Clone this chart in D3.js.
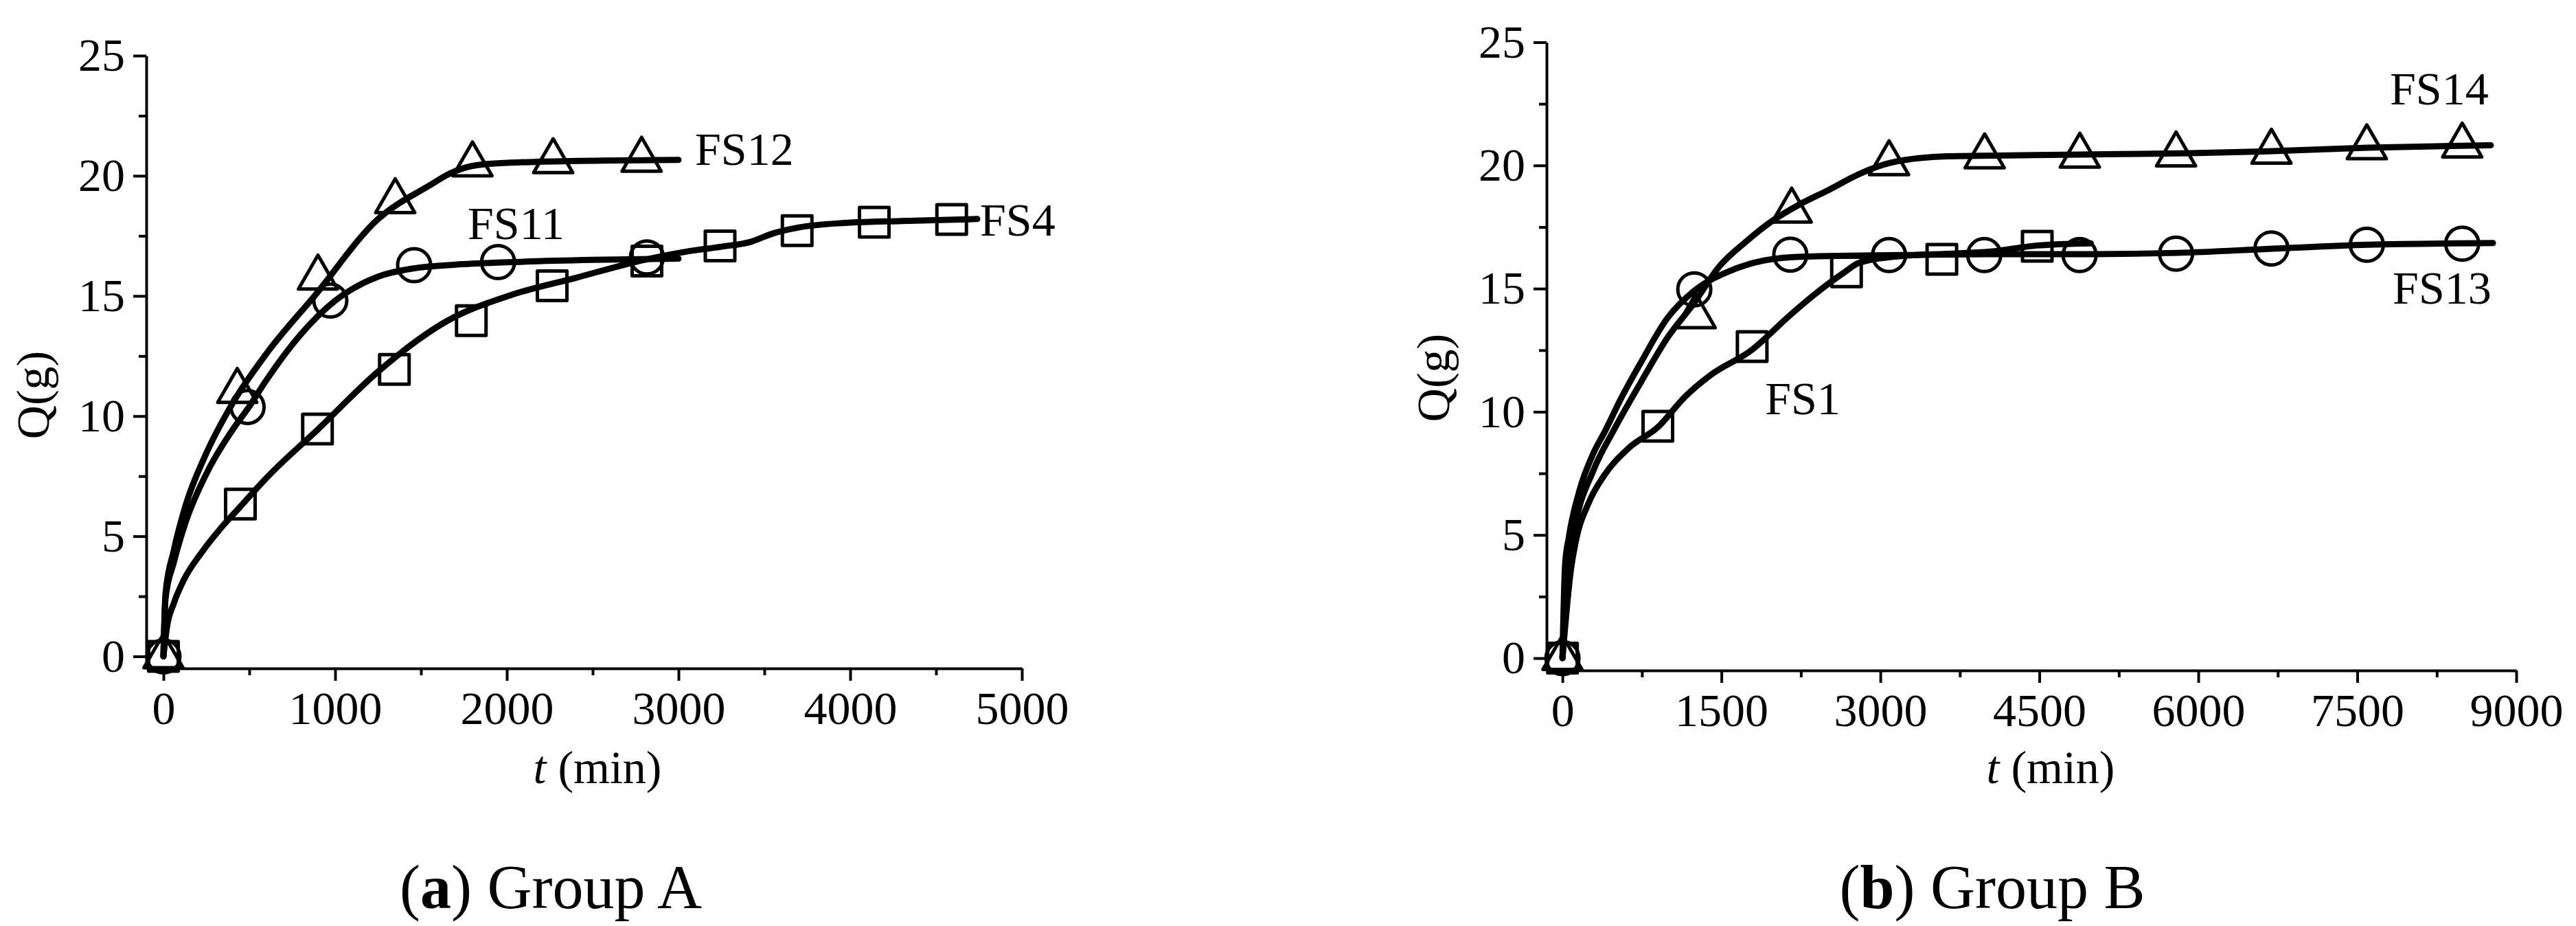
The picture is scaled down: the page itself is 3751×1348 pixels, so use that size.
<!DOCTYPE html>
<html><head><meta charset="utf-8">
<script src="https://cdn.jsdelivr.net/npm/d3@7/dist/d3.min.js"></script>
<style>body{margin:0;background:#fff}</style>
</head><body>
<svg id="c" width="3751" height="1348" xmlns="http://www.w3.org/2000/svg"></svg>
<script>
// ---------- Group A : measured points ----------
const A_FS12_t = [0, 430, 900, 1350, 1800, 2270, 2785];
const A_FS12_Q = [0, 11.04, 15.76, 18.94, 20.47, 20.6, 20.66];
const A_FS11_t = [0, 490, 972, 1460, 1949, 2816];
const A_FS11_Q = [0, 10.38, 14.81, 16.28, 16.41, 16.6];
const A_FS4_t  = [0, 448, 897, 1345, 1793, 2264, 2816, 3242, 3691, 4140, 4591];
const A_FS4_Q  = [0, 6.34, 9.46, 11.94, 13.97, 15.42, 16.45, 17.08, 17.72, 18.07, 18.18];
// ---------- Group A : fitted curves ----------
const A_FS12_fit_t = [0, 12, 60, 130, 240, 400, 600, 880, 1250, 1550, 1670, 1830, 2170, 3000];
const A_FS12_fit_Q = [0, 2.6, 4.4, 6.3, 8.3, 10.5, 12.6, 15.0, 18.2, 19.6, 20.1, 20.45, 20.58, 20.66];
const A_FS11_fit_t = [0, 12, 60, 130, 250, 400, 500, 600, 800, 1000, 1250, 1460, 1700, 2000, 2500, 3000];
const A_FS11_fit_Q = [0, 2.4, 3.9, 5.6, 7.6, 9.4, 10.4, 11.5, 13.4, 14.8, 15.8, 16.15, 16.3, 16.4, 16.5, 16.55];
const A_FS4_fit_t  = [0, 20, 60, 120, 220, 330, 450, 610, 900, 1250, 1650, 2030, 2400, 2800, 3050, 3250, 3420, 3550, 3700, 3970, 4300, 4740];
const A_FS4_fit_Q  = [0, 1.2, 2.2, 3.2, 4.3, 5.3, 6.25, 7.5, 9.45, 11.85, 13.95, 15.05, 15.75, 16.5, 16.85, 17.05, 17.25, 17.6, 17.85, 18.04, 18.12, 18.2];

// ---------- Group B : measured points ----------
const B_FS14_t = [0, 1257, 2163, 3082, 3984, 4882, 5790, 6690, 7590, 8490];
const B_FS14_Q = [0, 13.87, 18.16, 20.08, 20.36, 20.39, 20.44, 20.55, 20.73, 20.8];
const B_FS13_t = [0, 1244, 2150, 3082, 3980, 4880, 5790, 6690, 7590, 8490];
const B_FS13_Q = [0, 14.97, 16.38, 16.36, 16.36, 16.36, 16.42, 16.63, 16.78, 16.82];
const B_FS1_t  = [0, 900, 1790, 2680, 3580, 4480];
const B_FS1_Q  = [0, 9.41, 12.65, 15.68, 16.19, 16.72];
// ---------- Group B : fitted curves ----------
const B_FS14_fit_t = [0, 50, 125, 290, 490, 740, 990, 1240, 1480, 1730, 1980, 2230, 2510, 2800, 3090, 3630, 4450, 5270, 5930, 6700, 7600, 8760];
const B_FS14_fit_Q = [0, 3.6, 5.5, 7.6, 9.3, 11.2, 13.0, 14.4, 15.9, 16.9, 17.75, 18.4, 19.0, 19.65, 20.1, 20.37, 20.42, 20.46, 20.5, 20.58, 20.72, 20.82];
const B_FS13_fit_t = [0, 25, 60, 160, 290, 400, 560, 740, 990, 1240, 1570, 1810, 2180, 3200, 4000, 4900, 5800, 6700, 7600, 8780];
const B_FS13_fit_Q = [0, 3.8, 4.9, 6.8, 8.3, 9.2, 10.6, 12.0, 13.8, 14.9, 15.7, 16.05, 16.28, 16.36, 16.4, 16.4, 16.45, 16.62, 16.78, 16.85];
const B_FS1_fit_t  = [0, 80, 124, 247, 391, 618, 906, 1154, 1401, 1784, 2142, 2390, 2657, 2800, 3214, 3626, 4038, 4478, 4985];
const B_FS1_fit_Q  = [0, 3.6, 4.7, 6.3, 7.4, 8.5, 9.4, 10.6, 11.5, 12.5, 13.9, 14.8, 15.65, 16.05, 16.33, 16.41, 16.5, 16.75, 16.84];

// ---------- axes ----------
const A_xTicks = [0, 1000, 2000, 3000, 4000, 5000];
const B_xTicks = [0, 1500, 3000, 4500, 6000, 7500, 9000];
const yTicks = [0, 5, 10, 15, 20, 25];
const captions = [["a", " Group A"], ["b", " Group B"]];

const FONT = '"Liberation Serif","Times New Roman",Times,serif';
const svg = d3.select("#c");
svg.append("rect").attr("width", 3751).attr("height", 1348).attr("fill", "#fff");

const zip = (t, q) => t.map((v, i) => [v, q[i]]);

const panels = [
  {
    xDomain: [-100, 5000], xRange: [213, 1488], yRange: [973, 81],
    xTicks: A_xTicks, xMinorStep: 500, yTitleY: 575, xTitleX: 870, capX: 802,
    series: [
      {name: "FS12", sym: "tri", pts: zip(A_FS12_t, A_FS12_Q), fit: zip(A_FS12_fit_t, A_FS12_fit_Q), label: [3096, 20.45]},
      {name: "FS11", sym: "cir", pts: zip(A_FS11_t, A_FS11_Q), fit: zip(A_FS11_fit_t, A_FS11_fit_Q), label: [1772, 17.37]},
      {name: "FS4",  sym: "sq",  pts: zip(A_FS4_t, A_FS4_Q),   fit: zip(A_FS4_fit_t, A_FS4_fit_Q),   label: [4756, 17.51]}
    ]
  },
  {
    xDomain: [-150, 9000], xRange: [2252, 3664], yRange: [976, 61.5],
    xTicks: B_xTicks, xMinorStep: 750, yTitleY: 550, xTitleX: 2986, capX: 2901,
    series: [
      {name: "FS14", sym: "tri", pts: zip(B_FS14_t, B_FS14_Q), fit: zip(B_FS14_fit_t, B_FS14_fit_Q), label: [7808, 22.48]},
      {name: "FS13", sym: "cir", pts: zip(B_FS13_t, B_FS13_Q), fit: zip(B_FS13_fit_t, B_FS13_fit_Q), label: [7834, 14.39]},
      {name: "FS1",  sym: "sq",  pts: zip(B_FS1_t, B_FS1_Q),   fit: zip(B_FS1_fit_t, B_FS1_fit_Q),   label: [1912, 9.9]}
    ]
  }
];

const symTypes = {
  tri: d3.symbol(d3.symbolTriangle, 1400),
  cir: d3.symbol(d3.symbolCircle, 1810),
  sq:  d3.symbol(d3.symbolSquare, 1849)
};

panels.forEach((p, pi) => {
  const x = d3.scaleLinear().domain(p.xDomain).range(p.xRange);
  const y = d3.scaleLinear().domain([-0.5, 25]).range(p.yRange);
  const g = svg.append("g");

  g.append("g").attr("transform", `translate(0,${p.yRange[0]})`)
    .call(d3.axisBottom(x).tickValues(p.xTicks).tickSize(18).tickSizeOuter(0).tickPadding(15).tickFormat(d3.format("d")));
  const xMinor = d3.range(p.xMinorStep, p.xDomain[1], p.xMinorStep * 2);
  g.append("g").attr("transform", `translate(0,${p.yRange[0]})`)
    .call(d3.axisBottom(x).tickValues(xMinor).tickSize(10).tickSizeOuter(0).tickFormat(""))
    .select(".domain").remove();
  g.append("g").attr("transform", `translate(${p.xRange[0]},0)`)
    .call(d3.axisLeft(y).tickValues(yTicks).tickSize(19).tickSizeOuter(0).tickPadding(12));
  g.append("g").attr("transform", `translate(${p.xRange[0]},0)`)
    .call(d3.axisLeft(y).tickValues([2.5, 7.5, 12.5, 17.5, 22.5]).tickSize(11).tickSizeOuter(0).tickFormat(""))
    .select(".domain").remove();

  g.selectAll(".domain, .tick line").attr("stroke", "#000").attr("stroke-width", 4);
  g.selectAll(".tick text").attr("font-family", FONT).attr("font-size", 68).attr("fill", "#000");

  const xt = g.append("text").attr("x", p.xTitleX).attr("y", 1140).attr("text-anchor", "middle")
    .attr("font-family", FONT).attr("font-size", 68);
  xt.append("tspan").attr("font-style", "italic").text("t");
  xt.append("tspan").text(" (min)");
  g.append("text").attr("transform", `translate(${p.xRange[0] - 142},${p.yTitleY}) rotate(-90)`)
    .attr("text-anchor", "middle").attr("font-family", FONT).attr("font-size", 68).text("Q(g)");

  const line = d3.line().x(d => x(d[0])).y(d => y(d[1])).curve(d3.curveMonotoneX);
  p.series.forEach(s => {
    g.append("path").datum(s.fit).attr("d", line).attr("fill", "none").attr("stroke", "#000")
      .attr("stroke-width", 9).attr("stroke-linecap", "round").attr("stroke-linejoin", "round");
  });
  p.series.forEach(s => {
    g.selectAll(null).data(s.pts).join("path")
      .attr("transform", d => `translate(${x(d[0])},${y(d[1])})`)
      .attr("d", symTypes[s.sym]).attr("fill", "none").attr("stroke", "#000").attr("stroke-width", 5)
      .attr("stroke-linejoin", "round");
    g.append("text").attr("x", x(s.label[0])).attr("y", y(s.label[1]))
      .attr("font-family", FONT).attr("font-size", 68).text(s.name);
  });

  const cap = svg.append("text").attr("x", p.capX).attr("y", 1322).attr("text-anchor", "middle")
    .attr("font-family", FONT).attr("font-size", 90);
  cap.append("tspan").text("(");
  cap.append("tspan").attr("font-weight", "bold").text(captions[pi][0]);
  cap.append("tspan").text(")" + captions[pi][1]);
});
</script>
</body></html>
